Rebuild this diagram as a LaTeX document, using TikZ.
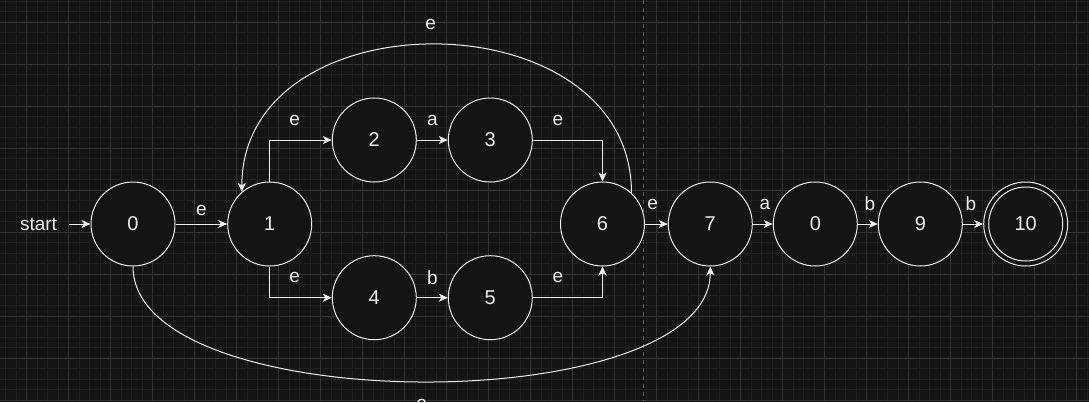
\documentclass[tikz,border=0pt]{standalone}
\usepackage{fontspec}
\setmainfont{Liberation Sans}
\usetikzlibrary{arrows.meta}

\definecolor{canvas}{HTML}{141414}
\definecolor{minorgrid}{HTML}{1F1F1F}
\definecolor{majorgrid}{HTML}{333333}
\definecolor{ink}{HTML}{EDEDED}
\definecolor{divider}{HTML}{5A5A5A}

\newcommand*\statesize{84pt}
\newcommand*\gridstep{10.5}
\tikzset{
    state/.style={
        circle,
        draw=ink,
        line width=1pt,
        fill=canvas,
        text=ink,
        minimum size=\statesize,
        inner sep=0pt,
        font=\fontsize{20}{24}\selectfont
    },
    move/.style={draw=ink, line width=1pt, -{Stealth[length=9pt,width=8pt,inset=2.5pt]}},
    sym/.style={text=ink, font=\fontsize{19}{22}\selectfont, yshift=20pt}
}

\begin{document}
\begin{tikzpicture}[x=1pt,y=-1pt]
    \useasboundingbox (0,0) rectangle (1089,402);
    \fill[canvas] (0,0) rectangle (1089,402);

    % First the grid: fine lines, then every fourth one.
    \foreach \i in {-2,...,101}
        \draw[minorgrid, line width=0.7pt] ({26.7+\gridstep*\i},0) -- ++(0,402);
    \foreach \j in {-2,...,36}
        \draw[minorgrid, line width=0.7pt] (0,{22.3+\gridstep*\j}) -- ++(1089,0);
    \foreach \i in {0,...,25}
        \draw[majorgrid, line width=0.8pt] ({26.7+4*\gridstep*\i},0) -- ++(0,402);
    \foreach \j in {0,...,9}
        \draw[majorgrid, line width=0.8pt] (0,{22.3+4*\gridstep*\j}) -- ++(1089,0);

    % Dashed divider.
    \draw[divider, line width=1pt, dash pattern=on 4pt off 4pt] (643.7,0) -- (643.7,402);

    % The states.
    \node[state] (s0) at (133,224) {0};
    \node[state] (s1) at (269.7,224) {1};
    \node[state] (s2) at (374.3,140) {2};
    \node[state] (s3) at (490.3,140) {3};
    \node[state] (s4) at (374.3,297.7) {4};
    \node[state] (s5) at (490.3,297.7) {5};
    \node[state] (s6) at (602.5,224) {6};
    \node[state] (s7) at (710.3,224) {7};
    \node[state] (s8) at (815.3,224) {0};
    \node[state] (s9) at (920.3,224) {9};
    \node[state] (s10) at (1025.7,224) {10};
    \draw[ink, line width=1pt] (s10.center) circle[radius=37pt];

    \node[text=ink, inner sep=0pt, font=\fontsize{19}{22}\selectfont] (start) at (38.5,224) {start};
    \draw[move, shorten <=12pt] (start) -- (s0);

    % Transitions.
    \draw[move] (s0) -- node[sym, yshift=-6pt] {e} (s1);
    \draw[move] (s1) |- node[sym, pos=0.7] {e} (s2);
    \draw[move] (s1) |- node[sym, pos=0.7] {e} (s4);
    \draw[move] (s2) -- node[sym] {a} (s3);
    \draw[move] (s4) -- node[sym] {b} (s5);
    \draw[move] (s3) -| node[sym, pos=0.18] {e} (s6);
    \draw[move] (s5) -| node[sym, pos=0.18] {e} (s6);
    \draw[move] (s6) -- node[sym, pos=0.33] {e} (s7);
    \draw[move] (s7) -- node[sym, pos=0.6] {a} (s8);
    \draw[move] (s8) -- node[sym, pos=0.6] {b} (s9);
    \draw[move] (s9) -- node[sym, pos=0.4] {b} (s10);

    % Loop back over the top, skip under the bottom.
    \draw[move] (s6.47) .. controls +(0,-197) and +(0,-197) .. node[sym, xshift=-6pt] {e} (s1.131);
    \draw[move] (s0.south) .. controls +(0,153) and +(0,153) .. node[sym, yshift=-43pt] {e} (s7.south);
\end{tikzpicture}
\end{document}
